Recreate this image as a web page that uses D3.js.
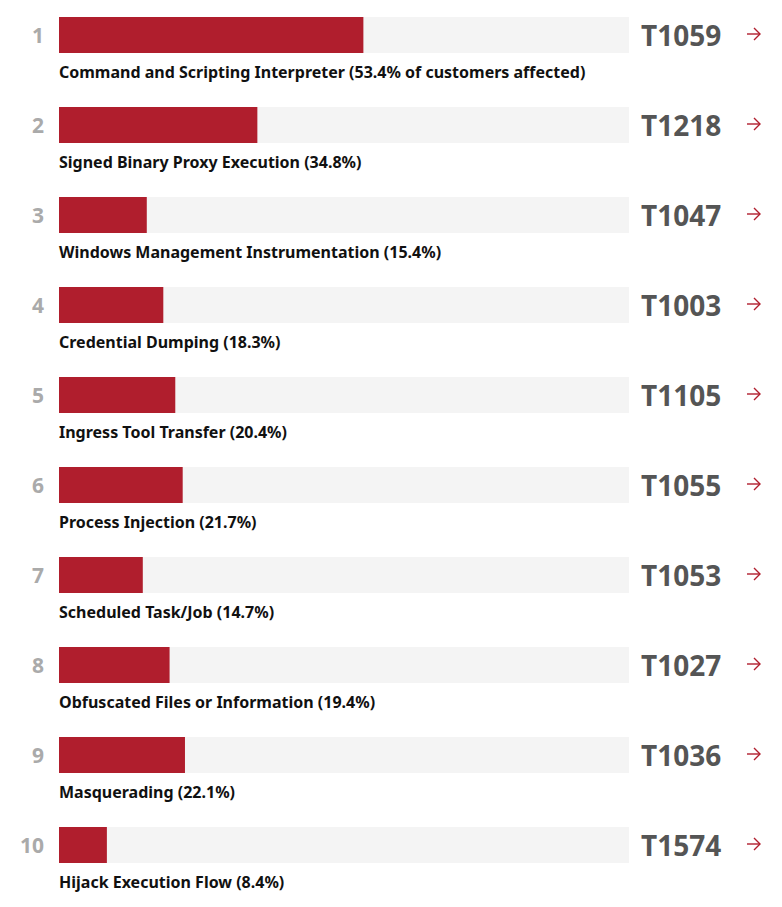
<!DOCTYPE html>
<html>
<head>
<meta charset="utf-8">
<script src="https://cdn.jsdelivr.net/npm/d3@7"></script>
<style>
  body { margin: 0; background: #fff; }
</style>
</head>
<body>
<div id="chart"></div>
<script>
// data
const ranks = [1, 2, 3, 4, 5, 6, 7, 8, 9, 10];
const techniques = ["Command and Scripting Interpreter", "Signed Binary Proxy Execution",
  "Windows Management Instrumentation", "Credential Dumping", "Ingress Tool Transfer",
  "Process Injection", "Scheduled Task/Job", "Obfuscated Files or Information",
  "Masquerading", "Hijack Execution Flow"];
const ids = ["T1059", "T1218", "T1047", "T1003", "T1105", "T1055", "T1053", "T1027", "T1036", "T1574"];
const pct = [53.4, 34.8, 15.4, 18.3, 20.4, 21.7, 14.7, 19.4, 22.1, 8.4];

const width = 782, height = 907;
const red = "#b01e2d";
const track = "#f4f4f4";
const font = "'Source Sans Pro', 'Liberation Sans Narrow', 'Noto Sans', sans-serif";

const svg = d3.select("#chart").append("svg")
  .attr("width", width).attr("height", height);

const y = d3.scaleBand().domain(ranks).range([17, 917]).paddingInner(0);
const x = d3.scaleLinear().domain([0, 100]).range([59, 629]);
const barH = 36;

const rows = svg.selectAll(".row")
  .data(ranks)
  .enter().append("g")
  .attr("class", "row")
  .attr("transform", d => `translate(0,${y(d)})`);

rows.append("rect")
  .attr("x", x(0)).attr("y", 0)
  .attr("width", x(100) - x(0)).attr("height", barH)
  .attr("fill", track);

rows.append("rect")
  .attr("x", x(0)).attr("y", 0)
  .attr("width", (d, i) => x(pct[i]) - x(0)).attr("height", barH)
  .attr("fill", red);

rows.append("text")
  .attr("x", 44).attr("y", 26)
  .attr("text-anchor", "end")
  .attr("font-family", font).attr("font-weight", "bold").attr("font-size", 21)
  .attr("fill", "#aaaaaa")
  .text(d => d);

rows.append("text")
  .attr("x", 59).attr("y", 61)
  .attr("font-family", font).attr("font-weight", "bold").attr("font-size", 16)
  .attr("fill", "#111")
  .text((d, i) => i === 0
    ? `${techniques[i]} (${pct[i]}% of customers affected)`
    : `${techniques[i]} (${pct[i]}%)`);

rows.append("text")
  .attr("x", 641).attr("y", 29)
  .attr("font-family", font).attr("font-weight", "bold").attr("font-size", 28)
  .attr("fill", "#555")
  .text((d, i) => ids[i]);

// arrow
const arrow = rows.append("g").attr("transform", "translate(747,17)")
  .attr("stroke", red).attr("stroke-width", 1.4).attr("fill", "none");
arrow.append("line").attr("x1", 0).attr("y1", 0).attr("x2", 13).attr("y2", 0);
arrow.append("polyline").attr("points", "7,-6 13,0 7,6");
</script>
</body>
</html>
